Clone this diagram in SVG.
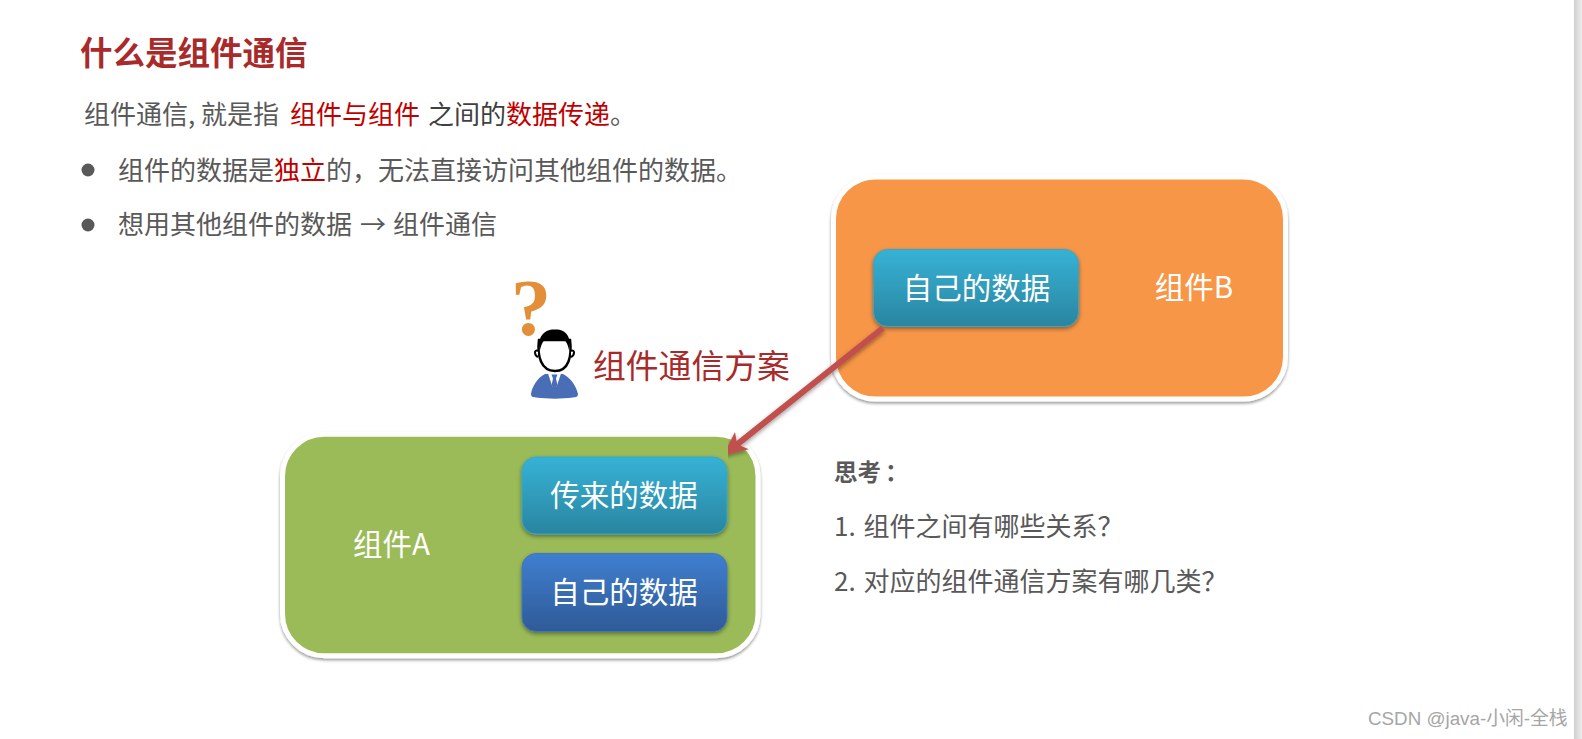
<svg xmlns="http://www.w3.org/2000/svg" width="1582" height="739" viewBox="0 0 1582 739">
<style>
text{font-family:"Noto Sans CJK SC","Noto Sans",sans-serif}
.t{font-size:26px;fill:#595959}
.r{fill:#c00000}
.q{font-size:26px;fill:#595959}
.n{fill:#fff;font-size:29.500px;text-anchor:middle}
.l{fill:#fff;font-size:29.500px;text-anchor:middle}
.w{stroke:#fff;stroke-width:5;filter:url(#sh)}
.b{filter:url(#sb);stroke-width:1}
</style>
<defs>
<filter id="sh" x="-5%" y="-5%" width="110%" height="112%"><feDropShadow dx="0" dy="2" stdDeviation="1.500" flood-color="#000" flood-opacity=".4"/></filter>
<filter id="sb" x="-5%" y="-5%" width="110%" height="120%"><feDropShadow dx="0" dy="2" stdDeviation="2" flood-color="#000" flood-opacity=".4"/></filter>
<linearGradient id="c" x1="0" y1="0" x2="0" y2="1"><stop offset="0" stop-color="#36b2d6"/><stop offset="1" stop-color="#2a85a0"/></linearGradient>
<linearGradient id="d" x1="0" y1="0" x2="0" y2="1"><stop offset="0" stop-color="#3f7fd0"/><stop offset="1" stop-color="#2f5a97"/></linearGradient>
<linearGradient id="s" x1="0" y1="0" x2="1" y2="0"><stop offset="0" stop-color="#cfcfcf"/><stop offset="1" stop-color="#ededed"/></linearGradient>
<marker id="ah" viewBox="0 0 24 24" refX="8" refY="12" markerUnits="userSpaceOnUse" markerWidth="24" markerHeight="24" orient="auto"><path d="M0,1L24,12L0,23L6,12z" fill="#c0504d"/></marker>
</defs>
<rect width="1582" height="739" fill="#fff"/>
<rect x="1574" y="0" width="8" height="739" fill="url(#s)"/>
<text x="80" y="65" font-size="32.500" font-weight="700" fill="#a92a2a">什么是组件通信</text>
<text x="84" y="124" class="t">组件通信, 就是指</text>
<text x="290" y="124" class="t r">组件与组件</text>
<text x="428" y="124" class="t" style="fill:#404040">之间的</text>
<text x="506" y="124" class="t r">数据传递</text>
<text x="610" y="124" class="t">。</text>
<circle cx="88" cy="170" r="6.500" fill="#595959"/>
<text x="118" y="180" class="t">组件的数据是</text>
<text x="274" y="180" class="t r">独立</text>
<text x="326" y="180" class="t">的，无法直接访问其他组件的数据。</text>
<circle cx="88" cy="225" r="6.500" fill="#595959"/>
<text x="118" y="234" class="t">想用其他组件的数据</text>
<text x="360" y="234" class="t">→</text>
<text x="393" y="234" class="t">组件通信</text>
<g id="person">
<text x="531" y="335" font-size="80" font-weight="700" fill="#e38e38" text-anchor="middle" style="font-family:'Liberation Serif',serif">?</text>
<path d="M545 374C537 378 532 387 531 394C531 397 533 397 536 397.500C548 399 562 399 573 397.500C576 397 578 397 578 394C576 386 571 378 563 374Z" fill="#4a6eb5"/>
<path d="M548 373.500L552.500 387L554.500 381L556.500 387L561 373.500Z" fill="#fff"/>
<path d="M551.500 374.500h6l-1.500 4l1.500 7l-3 3l-3-3l1.500-7z" fill="#4a6eb5"/>
<path d="M539 340C537 356 541 371 555 371C569 371 572 356 570 340Z" fill="#fff" stroke="#000" stroke-width="2.500"/>
<path d="M538 351C534 349 534 355 538 357M571 351C575 349 575 355 571 357" fill="#fff" stroke="#000" stroke-width="2"/>
<path d="M540 350C537 336 545 329 555 329.500C565 329 572 336 569 350C568 346 567 342 564 340C558 341 551 341 545 340C542 342 541 346 540 350Z" fill="#000"/>
</g>
<text x="593" y="378" font-size="32.800" fill="#a92a2a">组件通信方案</text>
<g id="component-b">
<rect x="833.500" y="177" width="452" height="222" rx="42" fill="#f79646" class="w"/>
<text x="1194" y="298" class="l">组件B</text>
<g id="b-data"><rect x="873.500" y="249.500" width="205" height="77" rx="14" fill="url(#c)" stroke="#3aa6c8" class="b"/>
<text x="976.500" y="299" class="n">自己的数据</text></g>
</g>
<g id="component-a">
<rect x="282.500" y="434.200" width="475.500" height="221.500" rx="42" fill="#9bbb59" class="w"/>
<text x="391.500" y="555" class="l">组件A</text>
<g id="a-recv"><rect x="522" y="457" width="205" height="77" rx="14" fill="url(#c)" stroke="#3aa6c8" class="b"/>
<text x="624" y="506" class="n">传来的数据</text></g>
<g id="a-own"><rect x="522" y="553.500" width="205" height="78" rx="14" fill="url(#d)" stroke="#3d78c0" class="b"/>
<text x="624" y="603" class="n">自己的数据</text></g>
</g>
<g id="connectors">
<line x1="883" y1="328" x2="735.600" y2="445.600" stroke="#c0504d" stroke-width="6" marker-end="url(#ah)" filter="url(#sb)"/>
</g>
<text x="834" y="481" font-size="23.500" font-weight="700" fill="#595959">思考<tspan dx="4">：</tspan></text>
<text x="834" y="536" class="q">1.<tspan dx="2"> 组件之间有哪些关系？</tspan></text>
<text x="834" y="591" class="q">2.<tspan dx="2"> 对应的组件通信方案有哪几类？</tspan></text>
<text x="1368" y="725" font-size="18.800" fill="#a6a6a6" style="font-family:'Liberation Sans','Noto Sans CJK SC',sans-serif">CSDN @java-小闲-全栈</text>
</svg>
